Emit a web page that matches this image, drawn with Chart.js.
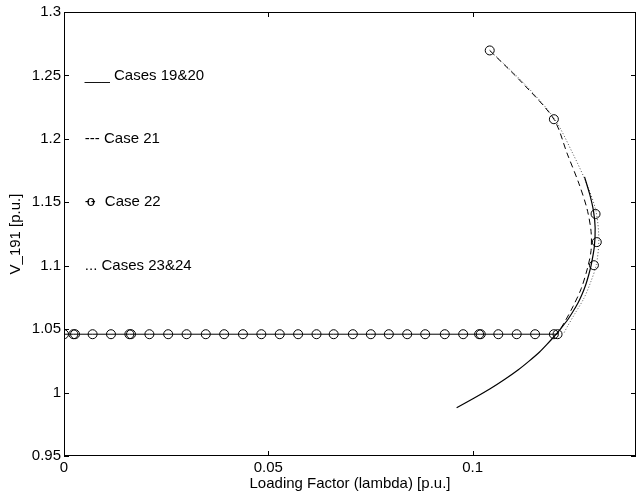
<!DOCTYPE html>
<html>
<head>
<meta charset="utf-8">
<script src="https://cdn.jsdelivr.net/npm/chart.js@4.4.1/dist/chart.umd.min.js"></script>
<style>
  html, body { margin: 0; padding: 0; background: #fff; }
  #wrap { width: 642px; height: 494px; }
</style>
</head>
<body>
<div id="wrap"><canvas id="chart" width="642" height="494"></canvas></div>
<script>
// axis ticks
const xTicks = [0, 0.05, 0.1];
const yTicks = [0.95, 1, 1.05, 1.1, 1.15, 1.2, 1.25, 1.3];

// in-plot legend text (placed at data coords)
const legendLabels = ['___ Cases 19&20', '--- Case 21', 'Case 22', '... Cases 23&24'];
const legendY = [1.25, 1.2, 1.15, 1.1];
const legendX = 0.0051;

// [lambda, V_191]
const case1920 = [
  [0.1274, 1.170], [0.1287, 1.156], [0.1296, 1.143], [0.1300, 1.130], [0.1298, 1.115],
  [0.1290, 1.100], [0.1284, 1.0925], [0.1277, 1.085], [0.1268, 1.0775], [0.1257, 1.070],
  [0.1245, 1.0635], [0.1232, 1.057], [0.1216, 1.0505], [0.1199, 1.044], [0.1182, 1.038],
  [0.1164, 1.032], [0.1139, 1.025], [0.1112, 1.018], [0.1079, 1.0105], [0.1043, 1.003],
  [0.1003, 0.9955], [0.0961, 0.988]
];

const case21 = [
  [0.1042, 1.2697], [0.1125, 1.243], [0.1199, 1.2155], [0.1232, 1.188], [0.1260, 1.165],
  [0.1280, 1.145], [0.1290, 1.127], [0.1290, 1.112], [0.1282, 1.099], [0.1266, 1.082],
  [0.1246, 1.068], [0.1226, 1.056], [0.1207, 1.046]
];

const case22 = [
  [0.1042, 1.2697], [0.1199, 1.2155], [0.1301, 1.1408], [0.1304, 1.1186], [0.1297, 1.1004],
  [0.1208, 1.046], [0.1199, 1.046], [0.1153, 1.046], [0.1108, 1.046], [0.1063, 1.046],
  [0.1020, 1.046], [0.1016, 1.046], [0.0977, 1.046], [0.0932, 1.046], [0.0884, 1.046],
  [0.0840, 1.046], [0.0795, 1.046], [0.0751, 1.046], [0.0707, 1.046], [0.0660, 1.046],
  [0.0618, 1.046], [0.0573, 1.046], [0.0528, 1.046], [0.0483, 1.046], [0.0438, 1.046],
  [0.0392, 1.046], [0.0347, 1.046], [0.0300, 1.046], [0.0255, 1.046], [0.0209, 1.046],
  [0.0164, 1.046], [0.0160, 1.046], [0.0115, 1.046], [0.0070, 1.046], [0.0027, 1.046],
  [0.0023, 1.046], [0.0000, 1.046]
];

const case2324 = [
  [0.1042, 1.2697], [0.1125, 1.244], [0.1199, 1.2165], [0.1246, 1.188], [0.1280, 1.164],
  [0.1302, 1.143], [0.1309, 1.121], [0.1303, 1.101], [0.1289, 1.087], [0.1272, 1.074],
  [0.1250, 1.062], [0.1232, 1.052], [0.1222, 1.046]
];

const FONT = 'Liberation Sans, Arial, Helvetica, sans-serif';
const toXY = arr => arr.map(p => ({ x: p[0], y: p[1] }));

// box, inward ticks on all sides, and the text legend
const frame = {
  id: 'frame',
  afterDraw(chart) {
    const { ctx, chartArea: a, scales: { x, y } } = chart;
    ctx.save();
    ctx.strokeStyle = '#000';
    ctx.lineWidth = 1;
    ctx.strokeRect(a.left + 0.5, a.top + 0.5, a.right - a.left - 1, a.bottom - a.top - 1);
    ctx.beginPath();
    xTicks.forEach(v => {
      const px = Math.round(x.getPixelForValue(v)) + 0.5;
      ctx.moveTo(px, a.bottom); ctx.lineTo(px, a.bottom - 5);
      ctx.moveTo(px, a.top); ctx.lineTo(px, a.top + 5);
    });
    yTicks.forEach(v => {
      const py = Math.round(y.getPixelForValue(v)) + 0.5;
      ctx.moveTo(a.left, py); ctx.lineTo(a.left + 5, py);
      ctx.moveTo(a.right, py); ctx.lineTo(a.right - 5, py);
    });
    ctx.stroke();

    ctx.fillStyle = '#000';
    ctx.font = '15px ' + FONT;
    ctx.textBaseline = 'middle';
    ctx.textAlign = 'left';
    const lx = x.getPixelForValue(legendX);
    legendLabels.forEach((t, i) => {
      const ly = y.getPixelForValue(legendY[i]);
      if (i === 2) {
        ctx.fillText('o', lx + 2, ly);
        ctx.fillText('-', lx, ly);
        ctx.fillText('-', lx + 6, ly);
        ctx.fillText(t, lx + 20, ly);
      } else {
        ctx.fillText(t, lx, ly);
      }
    });
    ctx.restore();
  }
};

new Chart(document.getElementById('chart'), {
  type: 'scatter',
  data: {
    datasets: [
      {
        label: 'Cases 19&20',
        data: toXY(case1920),
        showLine: true,
        borderColor: '#000',
        borderWidth: 1.2,
        pointRadius: 0,
        tension: 0.2
      },
      {
        label: 'Case 21',
        data: toXY(case21),
        showLine: true,
        borderColor: '#000',
        borderWidth: 1,
        borderDash: [6, 4],
        pointRadius: 0,
        tension: 0.3
      },
      {
        label: 'Cases 23&24',
        data: toXY(case2324),
        showLine: true,
        borderColor: '#555',
        borderWidth: 1,
        borderDash: [1, 2],
        pointRadius: 0,
        tension: 0.3
      },
      {
        label: 'Case 22',
        data: toXY(case22),
        showLine: true,
        borderColor: '#000',
        borderWidth: 1,
        pointRadius: 4.5,
        pointBorderWidth: 1,
        pointBackgroundColor: 'rgba(0,0,0,0)',
        pointBorderColor: '#000',
        segment: {
          borderColor: c => c.p0DataIndex < 5 ? 'rgba(0,0,0,0)' : '#000'
        }
      }
    ]
  },
  options: {
    responsive: false,
    animation: false,
    events: [],
    layout: { padding: { top: 8, right: 6, left: 0, bottom: 0 } },
    plugins: {
      legend: { display: false },
      tooltip: { enabled: false }
    },
    scales: {
      x: {
        type: 'linear',
        min: 0,
        max: 0.14,
        grid: { display: false, drawTicks: false, tickLength: 0 },
        border: { display: false },
        afterBuildTicks: s => { s.ticks = xTicks.map(v => ({ value: v })); },
        afterFit: s => { s.height = 38; },
        ticks: {
          color: '#000',
          padding: 3,
          maxRotation: 0,
          font: { family: FONT, size: 15 },
          callback: v => String(Number(v.toFixed(2)))
        },
        title: {
          display: true,
          text: 'Loading Factor (lambda) [p.u.]',
          color: '#000',
          padding: { top: 0, bottom: 1 },
          font: { family: FONT, size: 15 }
        }
      },
      y: {
        type: 'linear',
        min: 0.95,
        max: 1.3,
        grid: { display: false, drawTicks: false, tickLength: 0 },
        border: { display: false },
        afterBuildTicks: s => { s.ticks = yTicks.map(v => ({ value: v })); },
        afterFit: s => { s.width = 64; },
        ticks: {
          color: '#000',
          padding: 3,
          font: { family: FONT, size: 15 },
          callback: v => String(Number(v.toFixed(2)))
        },
        title: {
          display: true,
          text: 'V_191 [p.u.]',
          color: '#000',
          padding: { top: 7, bottom: 0 },
          font: { family: FONT, size: 15 }
        }
      }
    }
  },
  plugins: [frame]
});
</script>
</body>
</html>
